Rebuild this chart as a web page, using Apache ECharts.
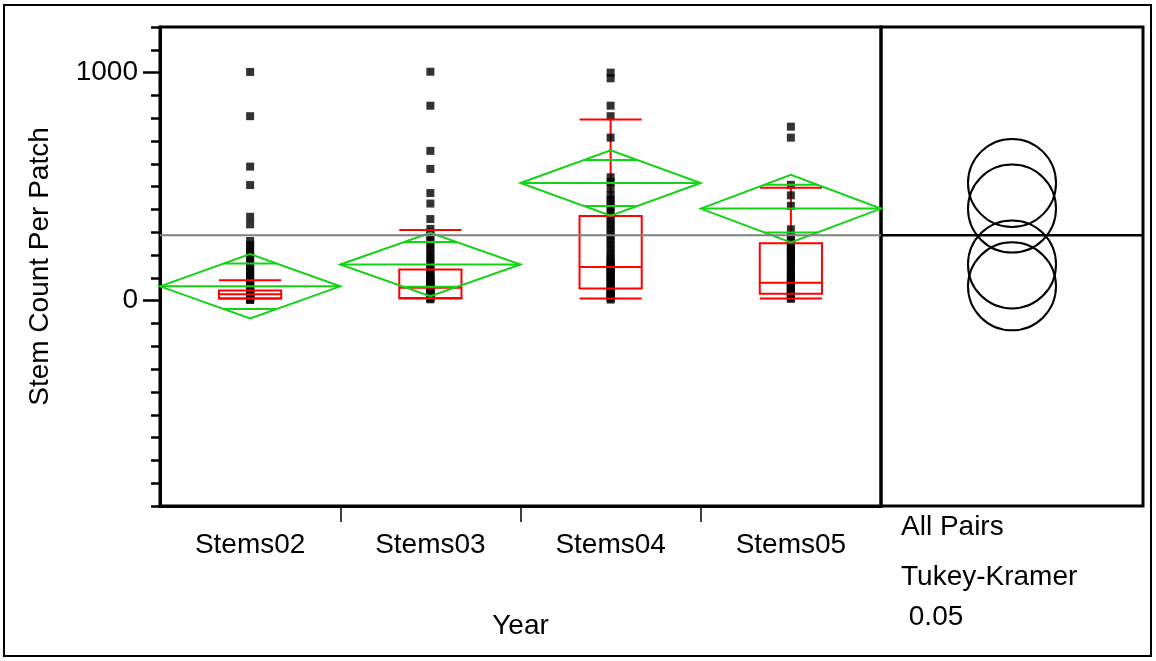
<!DOCTYPE html>
<html><head><meta charset="utf-8">
<script src="https://cdn.jsdelivr.net/npm/echarts@6/dist/echarts.min.js"></script>
<style>html,body{margin:0;padding:0;background:#fff}#c{width:1156px;height:661px}</style>
</head><body><div id="c"></div>
<script>
// ---------- data ----------
const categories = ['Stems02', 'Stems03', 'Stems04', 'Stems05'];
const stems02 = [1003, 809, 588, 507, 368, 335, 262, 245, 228, 212, 196, 180, 165, 150, 136, 122, 110, 98, 88, 79, 70, 63, 57, 51, 46, 42, 38, 34, 30, 27, 24, 21, 18, 15, 12, 9, 6, 3];
const stems03 = [1004, 855, 657, 578, 472, 426, 358, 315, 300, 282, 264, 246, 228, 210, 193, 176, 160, 145, 132, 120, 110, 101, 93, 86, 79, 72, 66, 60, 55, 50, 45, 40, 35, 30, 25, 20, 15, 10, 6];
const stems04 = [1000, 975, 855, 809, 715, 541, 520, 491, 462, 444, 426, 408, 390, 372, 354, 336, 318, 300, 282, 264, 246, 228, 210, 193, 180, 168, 158, 150, 143, 136, 126, 116, 106, 96, 86, 76, 66, 58, 50, 42, 34, 26, 18, 10, 5];
const stems05 = [763, 715, 508, 462, 416, 313, 281, 266, 252, 240, 230, 220, 210, 200, 188, 176, 164, 152, 140, 128, 116, 104, 92, 84, 79, 72, 64, 56, 48, 40, 33, 26, 20, 14, 8];
const groupPoints = [stems02, stems03, stems04, stems05];

const means = [63, 159, 516, 404];
const ciHalf = [141, 139, 143, 148];
const boxQ1 = [10, 10, 54, 31];
const boxMedian = [28, 57, 148, 79];
const boxQ3 = [45, 137, 371, 252];
const whiskerLow = [10, 12, 10, 10];
const whiskerHigh = [90, 310, 795, 495];
const grandMean = 287;
const circleRadius = 193;

const yMin = -900, yMax = 1200;
const yMajorTicks = [0, 1000];
const yMinorTicks = [-900, -800, -700, -600, -500, -400, -300, -200, -100, 0, 100, 200, 300, 400, 500, 600, 700, 800, 900, 1000, 1100, 1200];
const xBoundaryTicks = [1, 2, 3];
const xLabelPositions = [0.5, 1.5, 2.5, 3.5];
const yTitle = 'Stem Count Per Patch';
const xTitle = 'Year';
const sideLabels = ['All Pairs', 'Tukey-Kramer', ' 0.05'];

// ---------- chart ----------
const FONT = "'Liberation Sans', Arial, sans-serif";
const FS = 28;
const chart = echarts.init(document.getElementById('c'), null, {renderer: 'canvas'});

const scatterData = [];
groupPoints.forEach((arr, i) => arr.forEach(v => scatterData.push([i + 0.5, v])));

const boxData = categories.map((c, i) => [i + 0.5, whiskerLow[i], boxQ1[i], boxMedian[i], boxQ3[i], whiskerHigh[i]]);
const diamondData = categories.map((c, i) => [i + 0.5, means[i], ciHalf[i]]);
const circleData = means.map(m => [0.5, m]);

const RED = '#ff0000', GREEN = '#14d214';

function renderWhisker(params, api) {
  const x = api.value(0);
  const pLo = api.coord([x, api.value(1)]);
  const pQ1 = api.coord([x, api.value(2)]);
  const pQ3 = api.coord([x, api.value(4)]);
  const pHi = api.coord([x, api.value(5)]);
  const st = {stroke: RED, lineWidth: 2};
  return {type: 'group', children: [
    {type: 'line', shape: {x1: pQ3[0], y1: pQ3[1], x2: pHi[0], y2: pHi[1]}, style: st},
    {type: 'line', shape: {x1: pQ1[0], y1: pQ1[1], x2: pLo[0], y2: pLo[1]}, style: st}
  ]};
}
function renderBox(params, api) {
  const x = api.value(0);
  const band = api.size([1, 0])[0];
  const w = band * 0.345;
  const pLo = api.coord([x, api.value(1)]);
  const pQ1 = api.coord([x, api.value(2)]);
  const pMed = api.coord([x, api.value(3)]);
  const pQ3 = api.coord([x, api.value(4)]);
  const pHi = api.coord([x, api.value(5)]);
  const l = pQ1[0] - w / 2, r = pQ1[0] + w / 2;
  const st = {stroke: RED, lineWidth: 2, fill: null};
  return {type: 'group', children: [
    {type: 'rect', shape: {x: l, y: pQ3[1], width: w, height: pQ1[1] - pQ3[1]}, style: st},
    {type: 'line', shape: {x1: l, y1: pMed[1], x2: r, y2: pMed[1]}, style: st},
    {type: 'line', shape: {x1: l, y1: pHi[1], x2: r, y2: pHi[1]}, style: st},
    {type: 'line', shape: {x1: l, y1: pLo[1], x2: r, y2: pLo[1]}, style: st}
  ]};
}
function renderDiamond(params, api) {
  const x = api.value(0), m = api.value(1), h = api.value(2);
  const band = api.size([1, 0])[0];
  const hw = band / 2;
  const c = api.coord([x, m]);
  const t = api.coord([x, m + h]);
  const b = api.coord([x, m - h]);
  const k = Math.SQRT1_2;
  const o1 = api.coord([x, m + h * k])[1];
  const o2 = api.coord([x, m - h * k])[1];
  const ow = hw * (1 - k);
  const st = {stroke: GREEN, lineWidth: 2, fill: null};
  return {type: 'group', children: [
    {type: 'polygon', shape: {points: [[c[0] - hw, c[1]], [t[0], t[1]], [c[0] + hw, c[1]], [b[0], b[1]]]}, style: st},
    {type: 'line', shape: {x1: c[0] - hw, y1: c[1], x2: c[0] + hw, y2: c[1]}, style: st},
    {type: 'line', shape: {x1: c[0] - ow, y1: o1, x2: c[0] + ow, y2: o1}, style: st},
    {type: 'line', shape: {x1: c[0] - ow, y1: o2, x2: c[0] + ow, y2: o2}, style: st}
  ]};
}
function makeHLine(color, width) {
  return function (params, api) {
    const cs = params.coordSys;
    const y = api.coord([0, api.value(0)])[1];
    return {type: 'line', shape: {x1: cs.x, y1: y, x2: cs.x + cs.width, y2: y}, style: {stroke: color, lineWidth: width}};
  };
}
function renderCircle(params, api) {
  const c = api.coord([api.value(0), api.value(1)]);
  const r = api.size([0, circleRadius])[1];
  return {type: 'circle', shape: {cx: c[0], cy: c[1], r: r}, style: {stroke: '#000', lineWidth: 2, fill: null}};
}

const option = {
  animation: false,
  backgroundColor: '#fff',
  textStyle: {fontFamily: FONT},
  grid: [
    {left: 160, top: 27, width: 721, height: 479, show: true, borderColor: '#000', borderWidth: 3, backgroundColor: 'transparent'},
    {left: 881, top: 27, width: 262, height: 479, show: true, borderColor: '#000', borderWidth: 3, backgroundColor: 'transparent'}
  ],
  xAxis: [
    {
      type: 'value', gridIndex: 0, min: 0, max: 4, position: 'bottom',
      axisLine: {show: true, onZero: false, lineStyle: {color: '#000', width: 3}},
      axisTick: {show: true, customValues: xBoundaryTicks, length: 16, lineStyle: {color: '#000', width: 1.5}},
      axisLabel: {show: true, customValues: xLabelPositions, margin: 25, color: '#000', fontSize: FS, fontFamily: FONT,
        formatter: v => categories[Math.floor(v)] || ''},
      splitLine: {show: false},
      name: xTitle, nameLocation: 'middle', nameGap: 106,
      nameTextStyle: {color: '#000', fontSize: FS, fontFamily: FONT}
    },
    {type: 'value', gridIndex: 1, min: 0, max: 1, show: false}
  ],
  yAxis: [
    {
      type: 'value', gridIndex: 0, min: yMin, max: yMax,
      axisLine: {show: true, onZero: false, lineStyle: {color: '#000', width: 3}},
      axisTick: {show: true, customValues: yMinorTicks, length: 9, lineStyle: {color: '#000', width: 2.5}},
      axisLabel: {show: false},
      splitLine: {show: false}
    },
    {
      type: 'value', gridIndex: 0, min: yMin, max: yMax, position: 'left',
      axisLine: {show: false, onZero: false},
      axisTick: {show: true, customValues: yMajorTicks, length: 17, lineStyle: {color: '#000', width: 2.5}},
      axisLabel: {show: true, customValues: yMajorTicks, margin: 22, color: '#000', fontSize: FS, fontFamily: FONT,
        formatter: v => String(v)},
      splitLine: {show: false},
      name: yTitle, nameLocation: 'middle', nameGap: 106, nameRotate: 90,
      nameTextStyle: {color: '#000', fontSize: FS, fontFamily: FONT}
    },
    {type: 'value', gridIndex: 1, min: yMin, max: yMax, show: false}
  ],
  graphic: [
    {type: 'rect', shape: {x: 4, y: 5, width: 1147, height: 651}, style: {stroke: '#000', lineWidth: 2, fill: null}, z: 100},
    {type: 'text', left: 901, top: 513, style: {text: sideLabels[0], fontSize: FS, fontFamily: FONT, fill: '#000'}},
    {type: 'text', left: 901, top: 563, style: {text: sideLabels[1], fontSize: FS, fontFamily: FONT, fill: '#000'}},
    {type: 'text', left: 901, top: 603, style: {text: sideLabels[2], fontSize: FS, fontFamily: FONT, fill: '#000'}}
  ],
  series: [
    {type: 'custom', name: 'whiskers', xAxisIndex: 0, yAxisIndex: 0, renderItem: renderWhisker, data: boxData, z: 2, silent: true},
    {type: 'scatter', name: 'points', xAxisIndex: 0, yAxisIndex: 0, symbol: 'rect', symbolSize: 8, itemStyle: {color: '#000'}, data: scatterData, z: 3, silent: true},
    {type: 'custom', name: 'boxes', xAxisIndex: 0, yAxisIndex: 0, renderItem: renderBox, data: boxData, z: 4, silent: true},
    {type: 'custom', name: 'diamonds', xAxisIndex: 0, yAxisIndex: 0, renderItem: renderDiamond, data: diamondData, z: 5, silent: true},
    {type: 'custom', name: 'grandMean', xAxisIndex: 0, yAxisIndex: 0, renderItem: makeHLine('#808080', 2), data: [[grandMean]], z: 6, silent: true},
    {type: 'custom', name: 'grandMeanSide', xAxisIndex: 1, yAxisIndex: 2, renderItem: makeHLine('#000', 2.5), data: [[grandMean]], z: 6, silent: true},
    {type: 'custom', name: 'circles', xAxisIndex: 1, yAxisIndex: 2, renderItem: renderCircle, data: circleData, z: 6, silent: true}
  ]
};
chart.setOption(option);
</script>
</body></html>
